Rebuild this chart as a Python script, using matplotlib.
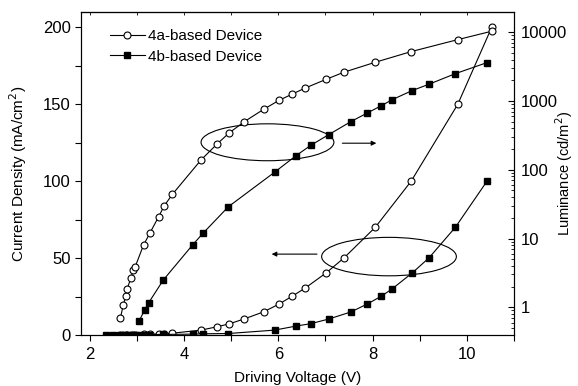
import numpy as np
import matplotlib.pyplot as plt
from matplotlib.patches import Ellipse
from matplotlib.ticker import MultipleLocator, LogLocator, NullFormatter

plt.rcParams['font.family'] = ['Liberation Sans', 'DejaVu Sans']

### data
# 4a-based device (open circles)
volt_a = [2.65, 2.71, 2.76, 2.79, 2.87, 2.92, 2.96, 3.14, 3.28, 3.46, 3.58, 3.75,
          4.36, 4.70, 4.95, 5.27, 5.69, 6.02, 6.29, 6.56, 7.02, 7.39, 8.06, 8.82,
          9.81, 10.53]
lum_a = [0.71, 1.08, 1.47, 1.85, 2.64, 3.49, 3.86, 8.06, 12.2, 20.8, 30.0, 43.8,
         139, 237, 340, 496, 758, 1026, 1254, 1532, 2071, 2618, 3660, 5225,
         7805, 10340]
cur_a = [0.1, 0.1, 0.15, 0.2, 0.2, 0.25, 0.3, 0.4, 0.5, 0.7, 0.9, 1.2,
         3.2, 5.4, 7.2, 10.4, 15.1, 20.2, 25.2, 30.3, 40.5, 50.0, 70.1, 100,
         150, 200]

# 4b-based device (filled squares)
volt_b = [3.05, 3.16, 3.25, 3.56, 4.18, 4.40, 4.94, 5.92, 6.37, 6.69, 7.07, 7.54,
          7.89, 8.19, 8.42, 8.84, 9.20, 9.76, 10.43]
lum_b = [0.64, 0.91, 1.17, 2.50, 8.06, 11.9, 29.0, 92, 159, 227, 324, 501,
         670, 856, 1047, 1416, 1754, 2501, 3613]
volt_b_cur = [2.35, 2.50, 2.65, 2.80, 2.95] + volt_b
cur_b = [0.1, 0.1, 0.1, 0.15, 0.2, 0.2, 0.25, 0.3, 0.4, 0.6, 0.8, 1.0, 3.2,
         5.8, 7.4, 10.4, 15.0, 20.2, 25.3, 30.1, 40.3, 50.2, 70.1, 100]


fig = plt.figure(figsize=(5.78, 3.86), dpi=100)
ax1 = fig.add_axes([0.140, 0.132, 0.749, 0.837])
ax2 = ax1.twinx()

lw = 0.8
# current density on the left axis
l_a, = ax1.plot(volt_a, cur_a, '-o', color='k', lw=lw, mfc='white', mec='k',
                mew=0.8, ms=5, label='4a-based Device')
l_b, = ax1.plot(volt_b_cur, cur_b, '-s', color='k', lw=lw, mfc='k', mec='k',
                ms=4.5, label='4b-based Device')
# luminance on the right (log) axis
ax2.plot(volt_a, lum_a, '-o', color='k', lw=lw, mfc='white', mec='k', mew=0.8, ms=5)
ax2.plot(volt_b, lum_b, '-s', color='k', lw=lw, mfc='k', mec='k', ms=4.5)

ax1.set_xlim(1.81, 11.0)
ax1.set_ylim(0, 210)
ax2.set_yscale('log')
ax2.set_ylim(0.395, 19700)

# ellipses + arrows showing which axis each pair belongs to
ax1.add_patch(Ellipse((5.77, 125.3), 2.82, 24, fill=False, ec='k', lw=lw, zorder=5))
ax1.annotate('', xy=(8.14, 124.7), xytext=(7.30, 124.7),
             arrowprops=dict(arrowstyle='-|>', color='k', lw=lw, mutation_scale=7))
ax1.add_patch(Ellipse((8.35, 51.0), 2.86, 25, fill=False, ec='k', lw=lw, zorder=5))
ax1.annotate('', xy=(5.80, 52.6), xytext=(6.88, 52.6),
             arrowprops=dict(arrowstyle='-|>', color='k', lw=lw, mutation_scale=7))

### ticks
ax1.xaxis.set_major_locator(MultipleLocator(2))
ax1.xaxis.set_minor_locator(MultipleLocator(1))
ax1.yaxis.set_major_locator(MultipleLocator(50))
ax1.yaxis.set_minor_locator(MultipleLocator(25))
ax1.tick_params(axis='x', which='both', direction='out', top=False, labelsize=12)
ax1.tick_params(axis='x', which='major', length=4.5, width=0.8, pad=4)
ax1.tick_params(axis='x', which='minor', length=4.5, width=0.8)
ax1.tick_params(axis='y', which='major', direction='out', length=4.5, width=0.8,
                labelsize=12, pad=3)
ax1.tick_params(axis='y', which='minor', direction='out', length=4.5, width=0.8)

# short inward ticks along the top
top = ax1.secondary_xaxis('top')
top.xaxis.set_major_locator(MultipleLocator(1))
top.tick_params(axis='x', direction='in', length=2.5, width=0.6, labeltop=False)

ax2.yaxis.set_major_locator(LogLocator(base=10, numticks=10))
ax2.yaxis.set_minor_locator(LogLocator(base=10, subs=np.arange(2, 10), numticks=10))
ax2.yaxis.set_minor_formatter(NullFormatter())
ax2.yaxis.set_major_formatter(plt.FuncFormatter(lambda v, p: '{:g}'.format(v)))
ax2.tick_params(axis='y', which='major', direction='in', length=4, width=0.8,
                labelsize=12, pad=5)
ax2.tick_params(axis='y', which='minor', direction='in', length=2.5, width=0.6)

for ax in (ax1, ax2):
    for s in ax.spines.values():
        s.set_linewidth(0.8)

ax1.set_xlabel('Driving Voltage (V)', fontsize=11, va='center')
ax1.xaxis.set_label_coords(0.5, -0.133)
ax1.set_ylabel('Current Density (mA/cm$^2$)', fontsize=11, va='center')
ax1.yaxis.set_label_coords(-0.145, 0.5)
ax2.set_ylabel('Luminance (cd/m$^2$)', fontsize=10.5, va='center', rotation=90)
ax2.yaxis.set_label_coords(1.117, 0.5)

ax1.legend(handles=[l_a, l_b], loc='upper left', frameon=False, fontsize=11,
           handlelength=2.3, handletextpad=0.2, labelspacing=0.45,
           bbox_to_anchor=(0.035, 0.99))

fig.savefig('out.png', dpi=100)
